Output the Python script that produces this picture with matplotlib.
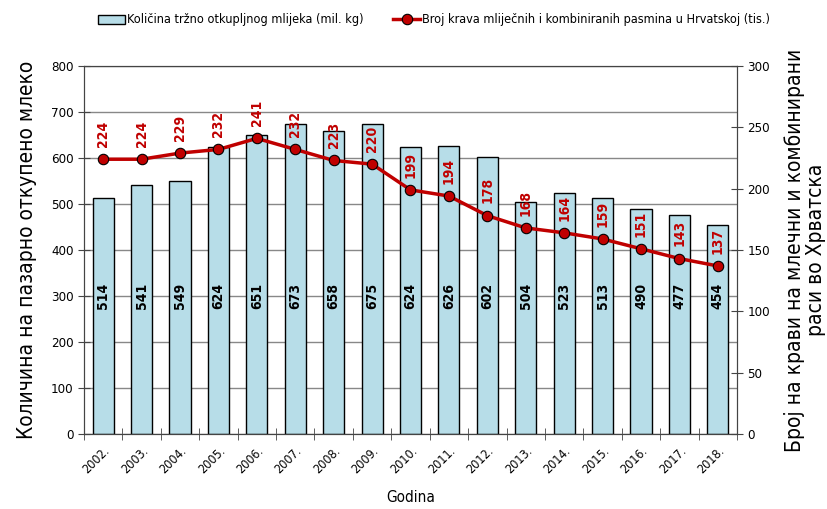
import numpy as np
import matplotlib.pyplot as plt

plt.rcParams['font.family'] = ['DejaVu Sans']
plt.rcParams['font.stretch'] = 'condensed'

# data
years = ["2002.", "2003.", "2004.", "2005.", "2006.", "2007.", "2008.", "2009.", "2010.",
         "2011.", "2012.", "2013.", "2014.", "2015.", "2016.", "2017.", "2018."]
milk = [514, 541, 549, 624, 651, 673, 658, 675, 624, 626, 602, 504, 523, 513, 490, 477, 454]
cows = [224, 224, 229, 232, 241, 232, 223, 220, 199, 194, 178, 168, 164, 159, 151, 143, 137]

x = np.arange(len(years))

fig = plt.figure(figsize=(8.28, 5.09), dpi=100)
ax = fig.add_axes([84 / 828, 1 - 434 / 509, (737 - 84) / 828, (434 - 66) / 509])
ax2 = ax.twinx()

# bars
ax.bar(x, milk, width=0.55, color="#b7dde8", edgecolor="black", linewidth=1.0,
       label="Količina tržno otkupljnog mlijeka (mil. kg)", zorder=2)
for xi, v in zip(x, milk):
    ax.text(xi, 300, str(v), rotation=90, ha="center", va="center",
            fontsize=10, fontweight="bold", color="black", zorder=3)

ax.set_xlim(-0.5, len(years) - 0.5)
ax.set_ylim(0, 800)
ax.set_yticks(np.arange(0, 801, 100))
ax.yaxis.grid(True, color="#888888", linewidth=1.0, zorder=0)
ax.set_axisbelow(True)
ax.set_xticks(x)
ax.set_xticklabels(years, rotation=45, ha="right", rotation_mode="anchor", fontsize=9)
ax.set_xticks(np.arange(-0.5, len(years), 1), minor=True)
ax.tick_params(axis="x", which="major", length=0, pad=7)
ax.tick_params(axis="x", which="minor", length=8, direction="inout", color="#444444")
ax.tick_params(axis="y", direction="inout", length=8, labelsize=9.5, color="#444444")
ax.set_ylabel("Количина на пазарно откупено млеко", fontsize=15, labelpad=10)
ax.set_xlabel("Godina", fontsize=11, labelpad=10)

# line
ax2.plot(x, cows, color="#c00000", linewidth=2.5, marker="o", markersize=7.5,
         markerfacecolor="#c00000", markeredgecolor="black", markeredgewidth=0.8,
         label="Broj krava mliječnih i kombiniranih pasmina u Hrvatskoj (tis.)", zorder=4)
for xi, v in zip(x, cows):
    ax2.text(xi, v + 10, str(v), rotation=90, ha="center", va="bottom",
             fontsize=10, fontweight="bold", color="#c00000", zorder=5)

ax2.set_ylim(0, 300)
ax2.set_yticks(np.arange(0, 301, 50))
ax2.tick_params(axis="y", direction="inout", length=8, labelsize=9.5, color="#444444")
ax2.set_ylabel("Број на крави на млечни и комбинирани\nраси во Хрватска", fontsize=15,
               rotation=90, labelpad=10, linespacing=1.05)

for a in (ax, ax2):
    for s in a.spines.values():
        s.set_color("#444444")

ax.set_zorder(ax2.get_zorder() - 1)
ax2.patch.set_visible(False)

h1, l1 = ax.get_legend_handles_labels()
h2, l2 = ax2.get_legend_handles_labels()
fig.legend(h1 + h2, l1 + l2, loc="center", bbox_to_anchor=(0.524, 1 - 20 / 509), ncol=2,
           frameon=False, fontsize=9.1, handlelength=2.1, columnspacing=2.4, handletextpad=0.15)

fig.savefig("out.png", dpi=100)
